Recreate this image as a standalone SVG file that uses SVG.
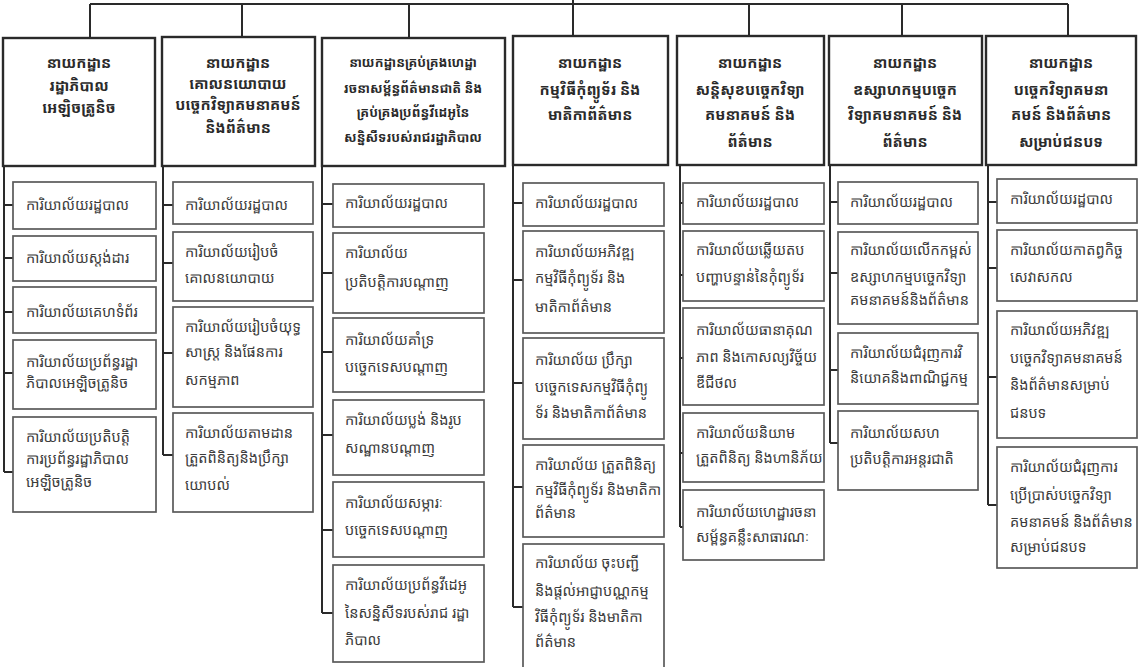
<svg xmlns="http://www.w3.org/2000/svg" width="1138" height="667" viewBox="0 0 1138 667">
<style>
.bg{fill:#ffffff}
.hd{fill:#ffffff;stroke:#2a2a2a;stroke-width:2.4}
.sb{fill:#ffffff;stroke:#5a5a5a;stroke-width:1.7}
.ln{fill:none;stroke:#2a2a2a;stroke-width:2}
.ht{font-family:"Noto Sans Khmer","Khmer OS","Noto Sans",sans-serif;font-size:15px;font-weight:bold;fill:#2a2a2a;text-anchor:middle}
.h3{font-size:13px}
.st{font-family:"Noto Sans Khmer","Khmer OS","Noto Sans",sans-serif;font-size:14.5px;fill:#3c3c3c}
</style>
<rect class="bg" x="0" y="0" width="1138" height="667"/>
<g id="connectors">
<path class="ln" d="M90,4 H1068 M573,0 V36 M90,4 V38 M242,4 V37 M409,4 V38 M749,4 V36 M902,4 V36 M1068,4 V36"/>
<path class="ln" d="M4,166 V472 M4,205 H13 M4,258 H13 M4,312 H13 M4,373 H13 M4,472 H13"/>
<path class="ln" d="M163,166 V455 M163,205 H173 M163,263 H173 M163,353 H173 M163,455 H173"/>
<path class="ln" d="M322,166 V613 M322,204 H333 M322,273 H333 M322,352 H333 M322,435 H333 M322,530 H333 M322,613 H333"/>
<path class="ln" d="M513,165 V607 M513,203 H523 M513,280 H523 M513,383 H523 M513,487 H523 M513,607 H523"/>
<path class="ln" d="M680,165 V527 M680,203 H683 M680,275 H683 M680,358 H683 M680,453 H683 M680,527 H683"/>
<path class="ln" d="M830,165 V443 M830,202 H838 M830,273 H838 M830,370 H838 M830,443 H838"/>
<path class="ln" d="M988,165 V505 M988,202 H997 M988,268 H997 M988,377 H997 M988,505 H997"/>
</g>
<g id="dept1">
<rect class="hd" x="3" y="38" width="152" height="128"/>
<text class="ht" x="79" y="68">នាយកដ្ឋាន</text>
<text class="ht" x="79" y="91">រដ្ឋាភិបាល</text>
<text class="ht" x="79" y="113">អេឡិចត្រូនិច</text>
</g>
<g id="dept1-1"><rect class="sb" x="13" y="182" width="143" height="47"/><text class="st" x="26" y="210">ការិយាល័យរដ្ឋបាល</text></g>
<g id="dept1-2"><rect class="sb" x="13" y="236" width="143" height="45"/><text class="st" x="26" y="263">ការិយាល័យស្តង់ដារ</text></g>
<g id="dept1-3"><rect class="sb" x="13" y="287" width="143" height="46"/><text class="st" x="26" y="317">ការិយាល័យគេហទំព័រ</text></g>
<g id="dept1-4"><rect class="sb" x="13" y="340" width="143" height="69"/><text class="st" x="26" y="367">ការិយាល័យប្រព័ន្ធរដ្ឋា</text><text class="st" x="26" y="388">ភិបាលអេឡិចត្រូនិច</text></g>
<g id="dept1-5"><rect class="sb" x="13" y="417" width="143" height="95"/><text class="st" x="26" y="442">ការិយាល័យប្រតិបត្តិ</text><text class="st" x="26" y="464">ការប្រព័ន្ធរដ្ឋាភិបាល</text><text class="st" x="26" y="487">អេឡិចត្រូនិច</text></g>

<g id="dept2">
<rect class="hd" x="162" y="37" width="153" height="129"/>
<text class="ht" x="238" y="68">នាយកដ្ឋាន</text>
<text class="ht" x="238" y="89">គោលនយោបាយ</text>
<text class="ht" x="238" y="110">បច្ចេកវិទ្យាគមនាគមន៍</text>
<text class="ht" x="238" y="133">និងព័ត៌មាន</text>
</g>
<g id="dept2-1"><rect class="sb" x="173" y="182" width="140" height="42"/><text class="st" x="185" y="210">ការិយាល័យរដ្ឋបាល</text></g>
<g id="dept2-2"><rect class="sb" x="173" y="232" width="140" height="69"/><text class="st" x="185" y="257">ការិយាល័យរៀបចំ</text><text class="st" x="185" y="283">គោលនយោបាយ</text></g>
<g id="dept2-3"><rect class="sb" x="173" y="307" width="140" height="100"/><text class="st" x="185" y="332">ការិយាល័យរៀបចំយុទ្ធ</text><text class="st" x="185" y="357">សាស្ត្រ និងផែនការ</text><text class="st" x="185" y="385">សកម្មភាព</text></g>
<g id="dept2-4"><rect class="sb" x="173" y="413" width="140" height="99"/><text class="st" x="185" y="438">ការិយាល័យតាមដាន</text><text class="st" x="185" y="463">ត្រួតពិនិត្យនិងប្រឹក្សា</text><text class="st" x="185" y="490">យោបល់</text></g>

<g id="dept3">
<rect class="hd" x="322" y="38" width="183" height="128"/>
<text class="ht h3" x="413" y="67">នាយកដ្ឋានគ្រប់គ្រងហេដ្ឋា</text>
<text class="ht h3" x="413" y="93">រចនាសម្ព័ន្ធព័ត៌មានជាតិ និង</text>
<text class="ht h3" x="413" y="117">គ្រប់គ្រងប្រព័ន្ធវីដេអូនៃ</text>
<text class="ht h3" x="413" y="142">សន្និសីទរបស់រាជរដ្ឋាភិបាល</text>
</g>
<g id="dept3-1"><rect class="sb" x="333" y="184" width="151" height="43"/><text class="st" x="345" y="208">ការិយាល័យរដ្ឋបាល</text></g>
<g id="dept3-2"><rect class="sb" x="333" y="233" width="151" height="80"/><text class="st" x="345" y="258">ការិយាល័យ</text><text class="st" x="345" y="287">ប្រតិបត្តិការបណ្តាញ</text></g>
<g id="dept3-3"><rect class="sb" x="333" y="318" width="151" height="74"/><text class="st" x="345" y="345">ការិយាល័យគាំទ្រ</text><text class="st" x="345" y="372">បច្ចេកទេសបណ្តាញ</text></g>
<g id="dept3-4"><rect class="sb" x="333" y="400" width="151" height="75"/><text class="st" x="345" y="425">ការិយាល័យប្លង់ និងរូប</text><text class="st" x="345" y="453">សណ្ឋានបណ្តាញ</text></g>
<g id="dept3-5"><rect class="sb" x="333" y="482" width="151" height="75"/><text class="st" x="345" y="508">ការិយាល័យសម្ភារៈ</text><text class="st" x="345" y="535">បច្ចេកទេសបណ្តាញ</text></g>
<g id="dept3-6"><rect class="sb" x="333" y="565" width="151" height="97"/><text class="st" x="345" y="590">ការិយាល័យប្រព័ន្ធវីដេអូ</text><text class="st" x="345" y="618">នៃសន្និសីទរបស់រាជ រដ្ឋា</text><text class="st" x="345" y="645">ភិបាល</text></g>

<g id="dept4">
<rect class="hd" x="513" y="36" width="155" height="129"/>
<text class="ht" x="590" y="68">នាយកដ្ឋាន</text>
<text class="ht" x="590" y="95">កម្មវិធីកុំព្យូទ័រ និង</text>
<text class="ht" x="590" y="120">មាតិកាព័ត៌មាន</text>
</g>
<g id="dept4-1"><rect class="sb" x="523" y="183" width="141" height="43"/><text class="st" x="535" y="208">ការិយាល័យរដ្ឋបាល</text></g>
<g id="dept4-2"><rect class="sb" x="523" y="231" width="141" height="102"/><text class="st" x="535" y="257">ការិយាល័យអភិវឌ្ឍ</text><text class="st" x="535" y="283">កម្មវិធីកុំព្យូទ័រ និង</text><text class="st" x="535" y="312">មាតិកាព័ត៌មាន</text></g>
<g id="dept4-3"><rect class="sb" x="523" y="338" width="141" height="101"/><text class="st" x="535" y="365">ការិយាល័យ ប្រឹក្សា</text><text class="st" x="535" y="392">បច្ចេកទេសកម្មវិធីកុំព្យូ</text><text class="st" x="535" y="418">ទ័រ និងមាតិកាព័ត៌មាន</text></g>
<g id="dept4-4"><rect class="sb" x="523" y="445" width="141" height="92"/><text class="st" x="535" y="470">ការិយាល័យ  ត្រួតពិនិត្យ</text><text class="st" x="535" y="495">កម្មវិធីកុំព្យូទ័រ  និងមាតិកា</text><text class="st" x="535" y="518">ព័ត៌មាន</text></g>
<g id="dept4-5"><rect class="sb" x="523" y="544" width="141" height="130"/><text class="st" x="535" y="568">ការិយាល័យ  ចុះបញ្ជី</text><text class="st" x="535" y="596">និងផ្តល់អាជ្ញាបណ្ណកម្ម</text><text class="st" x="535" y="622">វិធីកុំព្យូទ័រ  និងមាតិកា</text><text class="st" x="535" y="647">ព័ត៌មាន</text></g>

<g id="dept5">
<rect class="hd" x="677" y="36" width="147" height="129"/>
<text class="ht" x="750" y="68">នាយកដ្ឋាន</text>
<text class="ht" x="750" y="95">សន្តិសុខបច្ចេកវិទ្យា</text>
<text class="ht" x="750" y="120">គមនាគមន៍ និង</text>
<text class="ht" x="750" y="147">ព័ត៌មាន</text>
</g>
<g id="dept5-1"><rect class="sb" x="683" y="183" width="141" height="41"/><text class="st" x="696" y="207">ការិយាល័យរដ្ឋបាល</text></g>
<g id="dept5-2"><rect class="sb" x="683" y="231" width="141" height="70"/><text class="st" x="696" y="255">ការិយាល័យឆ្លើយតប</text><text class="st" x="696" y="282">បញ្ហាបន្ទាន់នៃកុំព្យូទ័រ</text></g>
<g id="dept5-3"><rect class="sb" x="683" y="308" width="141" height="97"/><text class="st" x="696" y="335">ការិយាល័យធានាគុណ</text><text class="st" x="696" y="362">ភាព និងកោសល្យវិច្ច័យ</text><text class="st" x="696" y="388">ឌីជីថល</text></g>
<g id="dept5-4"><rect class="sb" x="683" y="413" width="141" height="69"/><text class="st" x="696" y="438">ការិយាល័យនិយាម</text><text class="st" x="696" y="463">ត្រួតពិនិត្យ និងហានិភ័យ</text></g>
<g id="dept5-5"><rect class="sb" x="683" y="490" width="141" height="70"/><text class="st" x="696" y="517">ការិយាល័យហេដ្ឋារចនា</text><text class="st" x="696" y="542">សម្ព័ន្ធគន្លឹះសាធារណៈ</text></g>

<g id="dept6">
<rect class="hd" x="829" y="36" width="153" height="129"/>
<text class="ht" x="905" y="68">នាយកដ្ឋាន</text>
<text class="ht" x="905" y="95">ឧស្សាហកម្មបច្ចេក</text>
<text class="ht" x="905" y="120">វិទ្យាគមនាគមន៍ និង</text>
<text class="ht" x="905" y="147">ព័ត៌មាន</text>
</g>
<g id="dept6-1"><rect class="sb" x="838" y="182" width="140" height="42"/><text class="st" x="850" y="207">ការិយាល័យរដ្ឋបាល</text></g>
<g id="dept6-2"><rect class="sb" x="838" y="232" width="140" height="92"/><text class="st" x="850" y="255">ការិយាល័យលើកកម្ពស់</text><text class="st" x="850" y="282">ឧស្សាហកម្មបច្ចេកវិទ្យា</text><text class="st" x="850" y="305">គមនាគមន៍និងព័ត៌មាន</text></g>
<g id="dept6-3"><rect class="sb" x="838" y="333" width="140" height="71"/><text class="st" x="850" y="358">ការិយាល័យជំរុញការវិ</text><text class="st" x="850" y="383">និយោគនិងពាណិជ្ជកម្ម</text></g>
<g id="dept6-4"><rect class="sb" x="838" y="411" width="140" height="79"/><text class="st" x="850" y="438">ការិយាល័យសហ</text><text class="st" x="850" y="464">ប្រតិបត្តិការអន្តរជាតិ</text></g>

<g id="dept7">
<rect class="hd" x="986" y="36" width="150" height="129"/>
<text class="ht" x="1061" y="68">នាយកដ្ឋាន</text>
<text class="ht" x="1061" y="95">បច្ចេកវិទ្យាគមនា</text>
<text class="ht" x="1061" y="120">គមន៍ និងព័ត៌មាន</text>
<text class="ht" x="1061" y="147">សម្រាប់ជនបទ</text>
</g>
<g id="dept7-1"><rect class="sb" x="997" y="179" width="140" height="44"/><text class="st" x="1010" y="204">ការិយាល័យរដ្ឋបាល</text></g>
<g id="dept7-2"><rect class="sb" x="997" y="230" width="140" height="71"/><text class="st" x="1010" y="255">ការិយាល័យកាតព្វកិច្ច</text><text class="st" x="1010" y="282">សេវាសកល</text></g>
<g id="dept7-3"><rect class="sb" x="997" y="311" width="140" height="127"/><text class="st" x="1010" y="335">ការិយាល័យអភិវឌ្ឍ</text><text class="st" x="1010" y="363">បច្ចេកវិទ្យាគមនាគមន៍</text><text class="st" x="1010" y="390">និងព័ត៌មានសម្រាប់</text><text class="st" x="1010" y="418">ជនបទ</text></g>
<g id="dept7-4"><rect class="sb" x="997" y="447" width="140" height="121"/><text class="st" x="1010" y="472">ការិយាល័យជំរុញការ</text><text class="st" x="1010" y="500">ប្រើប្រាស់បច្ចេកវិទ្យា</text><text class="st" x="1010" y="527">គមនាគមន៍  និងព័ត៌មាន</text><text class="st" x="1010" y="552">សម្រាប់ជនបទ</text></g>
</svg>
